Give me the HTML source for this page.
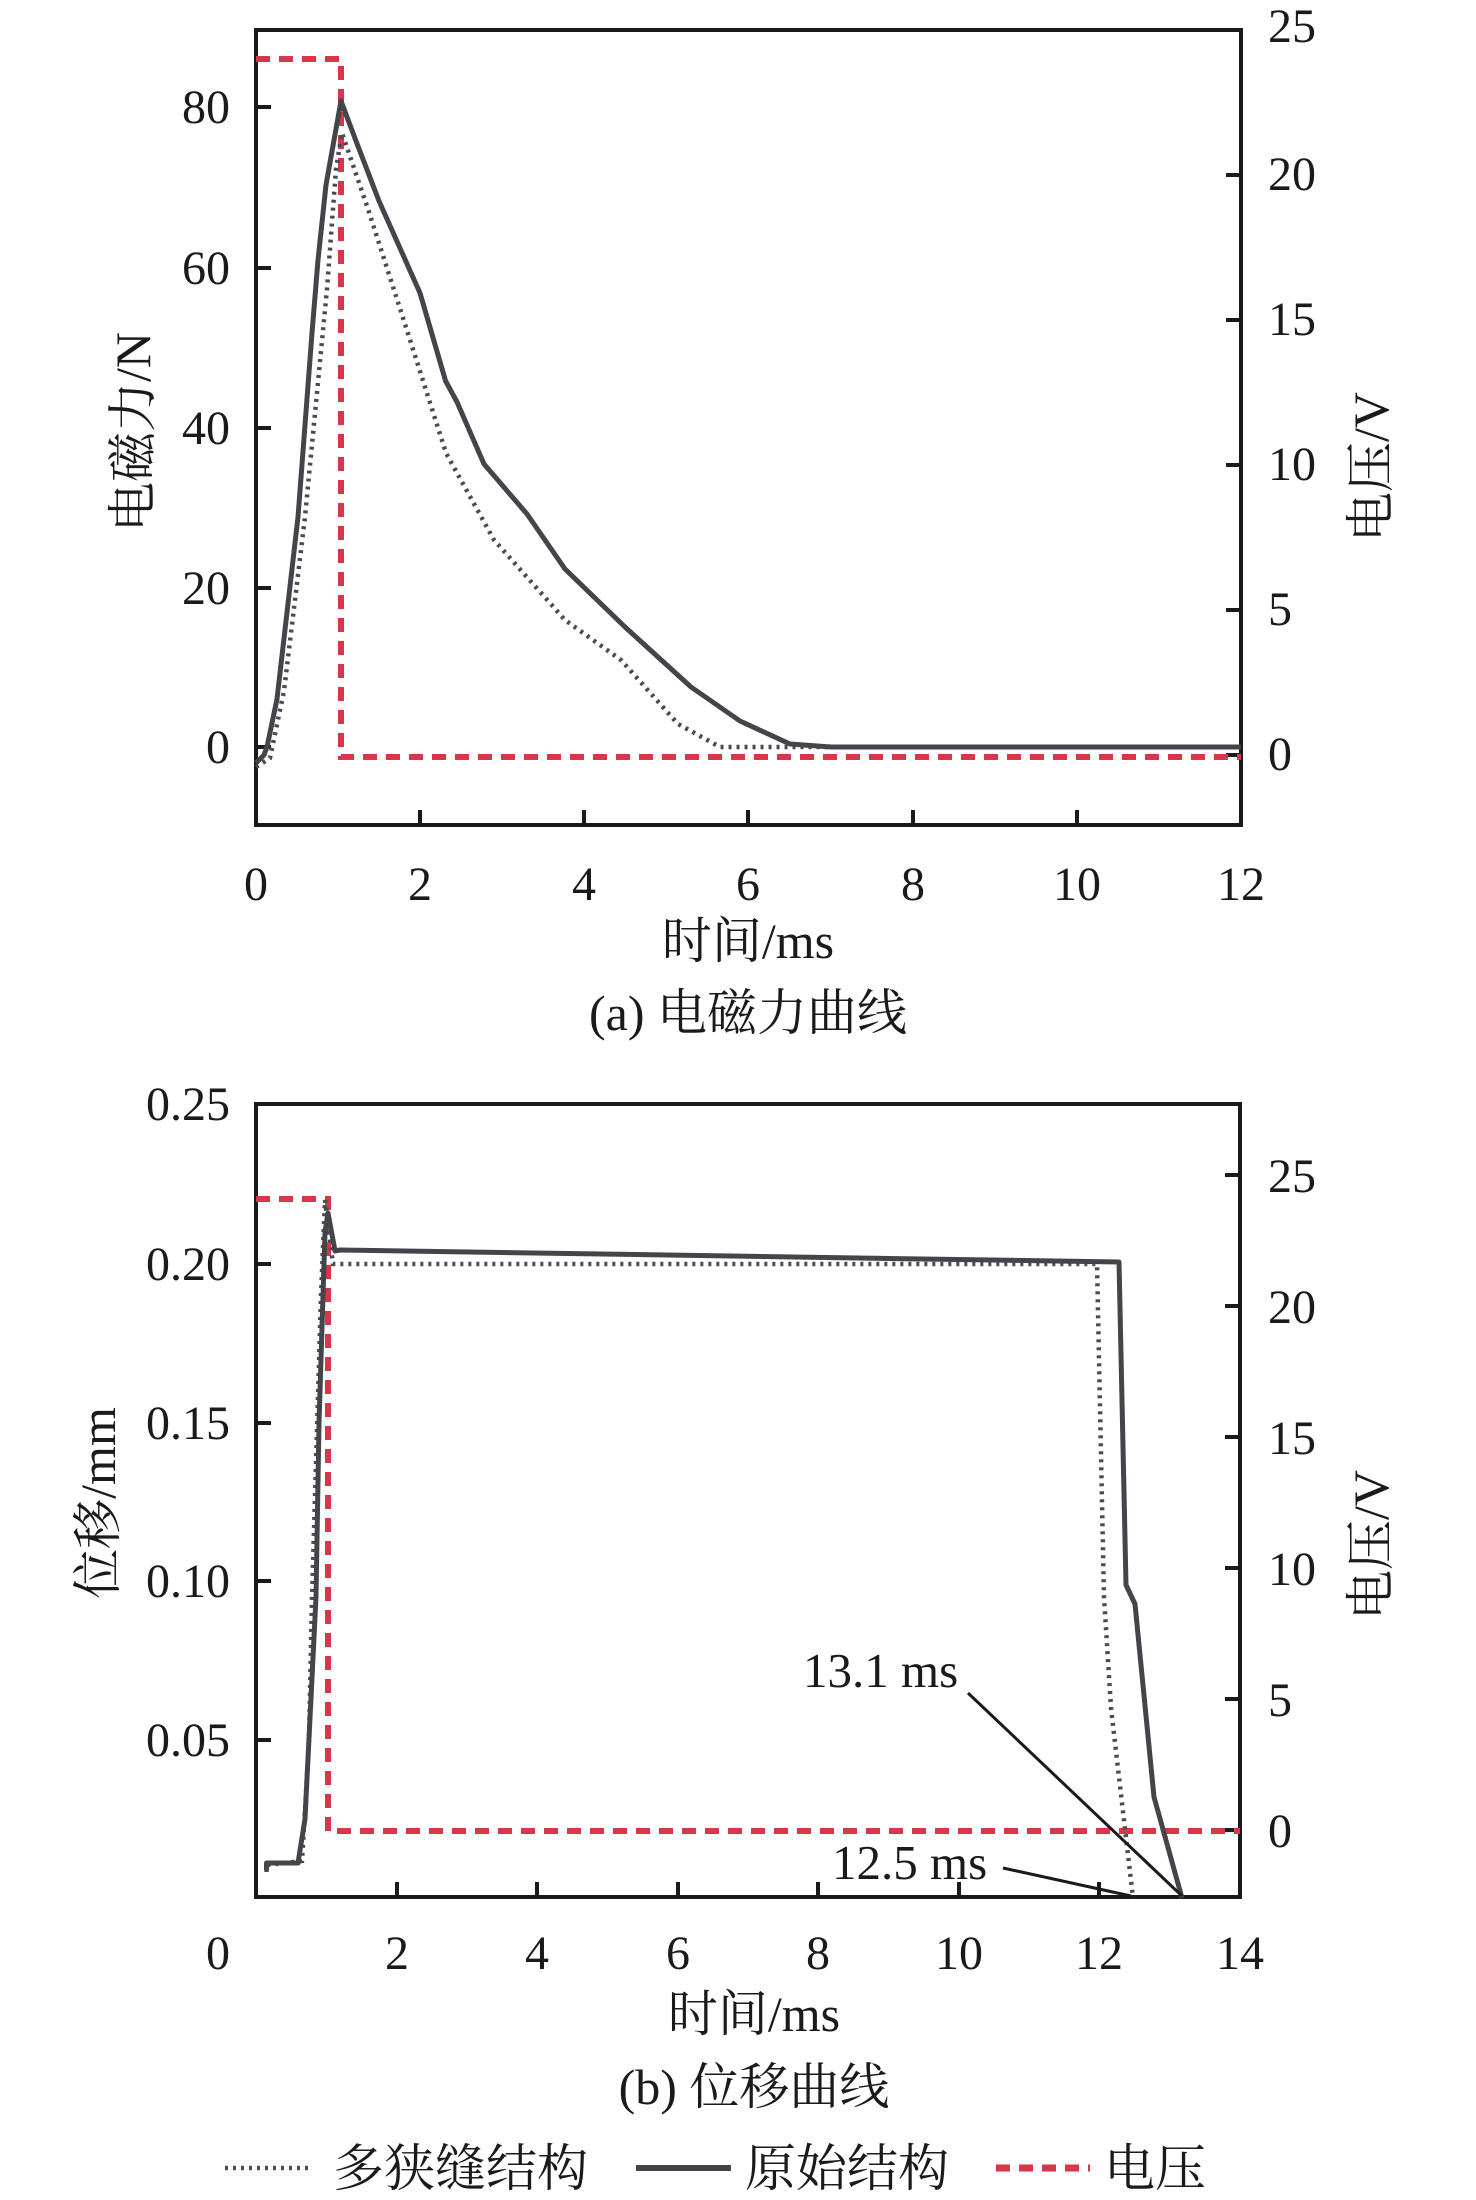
<!DOCTYPE html>
<html><head><meta charset="utf-8"><style>
html,body{margin:0;padding:0;background:#fff;}
svg{display:block}
text{font-family:"Liberation Serif","Noto Serif CJK SC",serif;fill:#1a1a1a}
</style></head><body>
<svg width="1476" height="2200" viewBox="0 0 1476 2200" xmlns="http://www.w3.org/2000/svg">
<!-- Chart A -->
<g fill="none" stroke="#1a1a1a" stroke-width="4">
<rect x="256" y="30" width="985" height="795"/>
<path d="M256 107h15M256 268h15M256 428h15M256 588h15M256 747h15"/>
<path d="M1241 755h-15M1241 610h-15M1241 465h-15M1241 320h-15M1241 175h-15"/>
<path d="M420 825v-15M584 825v-15M748 825v-15M913 825v-15M1077 825v-15"/>
</g>
<g font-size="48" text-anchor="end">
<text x="230" y="123">80</text><text x="230" y="284">60</text><text x="230" y="444">40</text><text x="230" y="604">20</text><text x="230" y="763">0</text>
</g>
<g font-size="48">
<text x="1268" y="42">25</text><text x="1268" y="190">20</text><text x="1268" y="335">15</text><text x="1268" y="480">10</text><text x="1268" y="625">5</text><text x="1268" y="770">0</text>
</g>
<g font-size="48" text-anchor="middle">
<text x="256" y="900">0</text><text x="420" y="900">2</text><text x="584" y="900">4</text><text x="748" y="900">6</text><text x="913" y="900">8</text><text x="1077" y="900">10</text><text x="1241" y="900">12</text>
<text x="748" y="958" font-size="50">时间/ms</text>
<text x="748" y="1030" font-size="50">(a) 电磁力曲线</text>
</g>
<text font-size="50" text-anchor="middle" transform="translate(150,432) rotate(-90)">电磁力/N</text>
<text font-size="50" text-anchor="middle" transform="translate(1388,467) rotate(-90)">电压/V</text>
<polyline fill="none" stroke="#d8374b" stroke-width="6" stroke-dasharray="14 9" points="256,59 341,59 341,757 1241,757"/>
<polyline fill="none" stroke="#4a4b50" stroke-width="4.5" stroke-dasharray="3 5" points="256,767 270,758 284,691 305,517 327,289 336,169 342,133 368,209 404,321 446,453 494,540 565,620 621,660 678,724 720,747 1241,747"/>
<polyline fill="none" stroke="#44454a" stroke-width="5" stroke-linejoin="round" points="256,763 264,755 267,747 277,699 298,517 312,333 318,260 326,185 341,101 354.5,137 379,201 420,293 445.6,381 457,402 484,464 527,514 565,569 625,627 691,687 740,721 790,744 831,747 1241,747"/>

<!-- Chart B -->
<g fill="none" stroke="#1a1a1a" stroke-width="4">
<rect x="256" y="1104" width="984" height="793"/>
<path d="M256 1264h15M256 1423h15M256 1581h15M256 1740h15"/>
<path d="M1240 1830h-15M1240 1699h-15M1240 1568h-15M1240 1437h-15M1240 1306h-15M1240 1175h-15"/>
<path d="M397 1897v-15M537 1897v-15M678 1897v-15M818 1897v-15M959 1897v-15M1099 1897v-15"/>
</g>
<g font-size="48" text-anchor="end">
<text x="230" y="1120">0.25</text><text x="230" y="1280">0.20</text><text x="230" y="1439">0.15</text><text x="230" y="1597">0.10</text><text x="230" y="1756">0.05</text>
</g>
<g font-size="48">
<text x="1268" y="1192">25</text><text x="1268" y="1323">20</text><text x="1268" y="1454">15</text><text x="1268" y="1585">10</text><text x="1268" y="1716">5</text><text x="1268" y="1847">0</text>
</g>
<g font-size="48" text-anchor="middle">
<text x="218" y="1969">0</text><text x="397" y="1969">2</text><text x="537" y="1969">4</text><text x="678" y="1969">6</text><text x="818" y="1969">8</text><text x="959" y="1969">10</text><text x="1099" y="1969">12</text><text x="1240" y="1969">14</text>
<text x="754" y="2031" font-size="50">时间/ms</text>
<text x="754" y="2104" font-size="50">(b) 位移曲线</text>
</g>
<text font-size="50" text-anchor="middle" transform="translate(115,1503) rotate(-90)">位移/mm</text>
<text font-size="50" text-anchor="middle" transform="translate(1388,1545) rotate(-90)">电压/V</text>
<polyline fill="none" stroke="#d8374b" stroke-width="6" stroke-dasharray="14 9" points="256,1199 328,1199 328,1831 1240,1831"/>
<polyline fill="none" stroke="#4a4b50" stroke-width="4.5" stroke-dasharray="3 5" points="266.5,1872 266.5,1865 302,1861 309,1740 312,1597 321,1296 325,1200 333,1264 1097,1264 1104,1597 1111,1708 1133,1898"/>
<polyline fill="none" stroke="#44454a" stroke-width="5" stroke-linejoin="round" points="266.5,1870 266.5,1863 298,1863 305,1819 316,1597 319,1423 325,1232 328,1213 335,1251 340,1250 1119,1262 1126,1585 1135,1604 1154,1797 1182,1898"/>
<g stroke="#1a1a1a" stroke-width="3" fill="none">
<line x1="968" y1="1693" x2="1182" y2="1896"/>
<line x1="1003" y1="1868" x2="1131" y2="1896"/>
</g>
<text x="803" y="1687" font-size="49">13.1 ms</text>
<text x="832" y="1879" font-size="49">12.5 ms</text>

<!-- Legend -->
<line x1="225" y1="2168" x2="312" y2="2168" stroke="#4a4b50" stroke-width="4.5" stroke-dasharray="3 5"/>
<line x1="636" y1="2168" x2="731" y2="2168" stroke="#44454a" stroke-width="6"/>
<line x1="996" y1="2168" x2="1090" y2="2168" stroke="#d8374b" stroke-width="7" stroke-dasharray="14 9"/>
<g font-size="51">
<text x="333" y="2186">多狭缝结构</text>
<text x="745" y="2186">原始结构</text>
<text x="1104" y="2186">电压</text>
</g>
</svg>
</body></html>
